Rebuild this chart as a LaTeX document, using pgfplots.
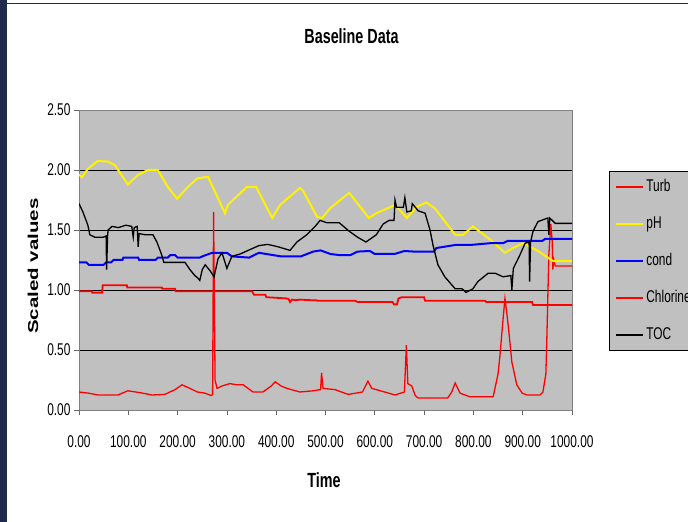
\documentclass[border=0pt]{standalone}
\usepackage{fontspec}
\setmainfont{Liberation Sans}[FakeStretch=0.70]
\newfontfamily\ylabfont{Liberation Sans}
\usepackage{pgfplots}
\pgfplotsset{compat=1.18}
\definecolor{plotgray}{HTML}{C0C0C0}
\definecolor{navy}{HTML}{1E2B4D}
\begin{document}
\begin{tikzpicture}
\useasboundingbox (0,0) rectangle (688pt,522pt);
\clip (0,0) rectangle (688pt,522pt);
\fill[white] (0,0) rectangle (688pt,522pt);
\fill[navy] (0,0) rectangle (7pt,522pt);
\fill[navy] (0,517.5pt) rectangle (688pt,519pt);
\node[anchor=base] at (351.5pt,478pt) {\fontsize{20.5}{24}\selectfont\bfseries Baseline Data};
\node[anchor=base] at (324pt,34pt) {\fontsize{20.5}{24}\selectfont\bfseries Time};
\node at (33pt,256pt) {\scalebox{0.7}[1]{\rotatebox{90}{\ylabfont\fontsize{20.5}{24}\selectfont\bfseries Scaled values}}};
\begin{axis}[
  at={(79pt,112pt)}, anchor=south west, scale only axis,
  width=493pt, height=300pt,
  xmin=0, xmax=1000, ymin=0, ymax=2.5,
  xtick={0,100,200,300,400,500,600,700,800,900,1000},
  ytick={0,0.5,1,1.5,2,2.5},
  ymajorgrids, grid style={black, line width=0.8pt},
  axis background/.style={fill=plotgray},
  axis line style={draw=black!50, line width=0.8pt},
  tick align=outside, xtick pos=bottom, ytick pos=left,
  major tick length=5pt, tick style={black!60, line width=0.8pt},
  ticklabel style={font=\fontsize{17}{20}\selectfont},
  xticklabel style={yshift=-17pt},
  /pgf/number format/fixed, /pgf/number format/fixed zerofill,
  /pgf/number format/precision=2, /pgf/number format/1000 sep={},
  /pgf/number format/assume math mode=true,
  legend image code/.code={\draw[#1] (0pt,0pt) -- (27pt,0pt);},
  legend style={at={(rel axis cs:1,1)}, anchor=north west, xshift=37pt, yshift=-61pt,
    fill=plotgray, draw=black, line width=0.8pt, inner sep=6pt, row sep=18pt,
    font=\fontsize{17}{20}\selectfont,
    nodes={text height=12pt, text depth=3pt, inner sep=2pt, text width=60pt, align=left}},
  legend cell align=left,
  clip=true,
]
% Turb
\addplot[red, line width=1.3pt] coordinates {
(0,0.15) (20,0.14) (38,0.125) (79,0.125) (99,0.16) (115,0.15) (130,0.14) (148,0.125) (174,0.13) (195,0.17) (209,0.21) (225,0.18) (240,0.15) (256,0.14) (268,0.12) (271,0.13) (273,1.65) (276,0.25) (280,0.18) (290,0.2) (306,0.22) (320,0.21) (333,0.21) (353,0.15) (373,0.15) (390,0.2) (398,0.235) (410,0.2) (422,0.18) (448,0.15) (475,0.16) (490,0.17) (492,0.31) (495,0.18) (519,0.17) (546,0.13) (575,0.15) (586,0.24) (594,0.18) (620,0.15) (641,0.125) (660,0.15) (664,0.54) (667,0.22) (675,0.2) (682,0.12) (688,0.10) (748,0.10) (756,0.15) (763,0.225) (773,0.14) (793,0.11) (840,0.11) (850,0.3) (854,0.46) (860,0.75) (864,0.93) (868,0.8) (872,0.65) (878,0.4) (888,0.21) (899,0.14) (909,0.125) (935,0.125) (941,0.15) (947,0.3) (949,0.6) (953,1.29) (957,1.55) (960,1.4) (961,1.17) (963,1.25) (966,1.2) (1000,1.2)};
\addlegendentry{Turb}
% pH
\addplot[yellow, line width=2pt] coordinates {
(0,1.96) (6,1.94) (18,2.01) (38,2.075) (59,2.07) (73,2.04) (99,1.88) (120,1.96) (140,2.0) (160,2.0) (180,1.86) (199,1.76) (221,1.86) (240,1.93) (256,1.94) (262,1.94) (296,1.64) (302,1.71) (341,1.86) (359,1.86) (392,1.60) (408,1.71) (448,1.85) (454,1.83) (483,1.61) (493,1.60) (509,1.68) (548,1.81) (588,1.60) (603,1.64) (631,1.69) (641,1.71) (665,1.60) (684,1.69) (704,1.73) (722,1.68) (763,1.46) (779,1.46) (799,1.53) (834,1.42) (864,1.31) (880,1.35) (901,1.39) (929,1.33) (962,1.24) (1000,1.24)};
\addlegendentry{pH}
% cond
\addplot[blue, line width=2pt] coordinates {
(0,1.23) (15,1.23) (20,1.21) (50,1.21) (55,1.23) (65,1.23) (70,1.25) (88,1.25) (90,1.27) (120,1.27) (122,1.25) (155,1.25) (160,1.27) (180,1.27) (185,1.29) (195,1.29) (200,1.27) (245,1.27) (250,1.28) (270,1.31) (300,1.31) (310,1.28) (345,1.27) (365,1.31) (380,1.30) (410,1.28) (450,1.28) (475,1.32) (490,1.33) (510,1.30) (530,1.29) (550,1.29) (565,1.32) (590,1.325) (600,1.30) (640,1.30) (660,1.325) (680,1.32) (720,1.32) (725,1.35) (763,1.375) (793,1.375) (834,1.39) (860,1.39) (870,1.41) (940,1.41) (945,1.425) (1000,1.425)};
\addlegendentry{cond}
% Chlorine
\addplot[red, line width=1.8pt] coordinates {
(0,0.99) (26,0.99) (27,0.978) (47,0.978) (48,1.04) (97,1.04) (98,1.02) (168,1.02) (169,1.01) (195,1.01) (196,0.99) (351,0.99) (355,0.96) (378,0.96) (380,0.94) (420,0.93) (425,0.925) (428,0.90) (432,0.92) (440,0.915) (448,0.92) (470,0.915) (480,0.915) (485,0.91) (560,0.91) (565,0.90) (600,0.90) (636,0.90) (639,0.88) (645,0.88) (648,0.93) (655,0.94) (700,0.94) (702,0.91) (824,0.91) (826,0.90) (919,0.90) (921,0.875) (1000,0.875)};
\addlegendentry{Chlorine}
% TOC
\addplot[black, line width=1.3pt] coordinates {
(0,1.72) (8,1.65) (18,1.54) (22,1.46) (32,1.44) (49,1.44) (55,1.45) (56,1.17) (58,1.45) (59,1.50) (67,1.53) (80,1.52) (95,1.54) (107,1.53) (110,1.44) (112,1.52) (118,1.53) (120,1.36) (122,1.47) (135,1.46) (150,1.46) (158,1.40) (168,1.29) (172,1.23) (180,1.23) (215,1.23) (225,1.17) (235,1.12) (241,1.10) (245,1.08) (250,1.17) (256,1.21) (262,1.18) (266,1.16) (274,1.11) (282,1.26) (290,1.31) (300,1.18) (310,1.28) (327,1.30) (343,1.33) (365,1.37) (383,1.38) (404,1.36) (428,1.33) (442,1.40) (462,1.46) (479,1.53) (489,1.58) (503,1.56) (528,1.56) (548,1.49) (565,1.44) (582,1.40) (603,1.46) (617,1.55) (629,1.58) (639,1.58) (641,1.75) (644,1.69) (658,1.69) (661,1.77) (665,1.65) (674,1.66) (676,1.72) (688,1.66) (702,1.64) (712,1.50) (718,1.375) (728,1.21) (742,1.11) (763,1.01) (777,1.01) (785,0.98) (799,1.01) (809,1.07) (830,1.14) (844,1.14) (860,1.11) (876,1.12) (878,1.0) (881,1.18) (893,1.28) (905,1.39) (913,1.40) (914,1.07) (916,1.40) (921,1.49) (931,1.57) (951,1.60) (953,1.46) (955,1.60) (966,1.555) (1000,1.555)};
\addlegendentry{TOC}
\draw[black!50, line width=0.8pt] (rel axis cs:0,1) -- (rel axis cs:1,1);
\end{axis}
\end{tikzpicture}
\end{document}
